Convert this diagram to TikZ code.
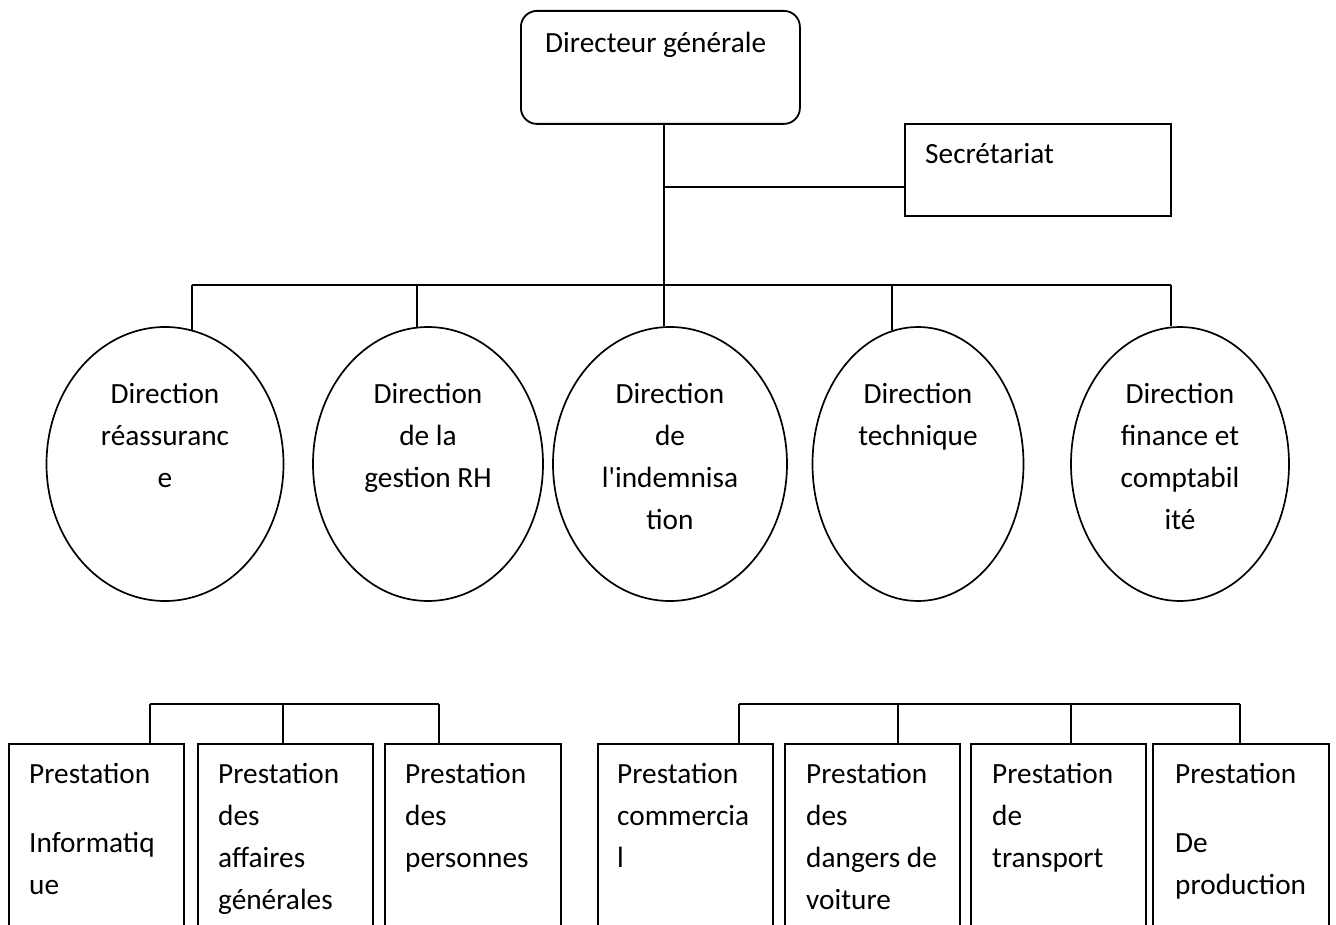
\documentclass[tikz,border=0pt]{standalone}
\usepackage{fontspec}
\setmainfont{Carlito}
\usetikzlibrary{shapes.geometric}
\newcommand{\straightq}{{\addfontfeatures{Ligatures=TeXOff}'}}
\begin{document}
\begin{tikzpicture}[x=1pt,y=-1pt,
  ln/.style={line width=1.8pt},
  ov/.style={ellipse,draw,line width=1.7pt,inner sep=0pt},
  bx/.style={rectangle,draw,line width=1.8pt,inner sep=0pt,anchor=north west},
  pbox/.style={bx,minimum width=175pt,minimum height=260pt},
  txt/.style={font=\fontsize{29.3}{42}\selectfont,inner sep=0pt},
  otxt/.style={txt,align=center,anchor=north},
  btxt/.style={txt,align=left,anchor=north west},
]
\useasboundingbox (0,0) rectangle (1336,925);
\clip (0,0) rectangle (1336,925);

% top
\node[bx,rounded corners=16pt,minimum width=279pt,minimum height=113pt] (dg) at (520,10) {};
\node[txt,anchor=base west] (dgt) at (545,53) {Directeur générale};
\node[bx,minimum width=266pt,minimum height=92pt] (sec) at (904,123) {};
\node[txt,anchor=base west] (sect) at (925,164) {Secrétariat};

% ellipses
\node[ov,minimum width=237pt,minimum height=274pt] (e1) at (165,464) {};
\node[ov,minimum width=230pt,minimum height=274pt] (e2) at (428,464) {};
\node[ov,minimum width=234pt,minimum height=274pt] (e3) at (670,464) {};
\node[ov,minimum width=211pt,minimum height=274pt] (e4) at (918,464) {};
\node[ov,minimum width=218pt,minimum height=274pt] (e5) at (1180,464) {};

\node[otxt] (t1) at (165,379) {\rule{0pt}{24pt}Direction\\réassuranc\\e};
\node[otxt] (t2) at (428,379) {\rule{0pt}{24pt}Direction\\de la\\gestion RH};
\node[otxt] (t3) at (670,379) {\rule{0pt}{24pt}Direction\\de\\l\straightq indemnisa\\tion};
\node[otxt] (t4) at (918,379) {\rule{0pt}{24pt}Direction\\technique};
\node[otxt] (t5) at (1180,379) {\rule{0pt}{24pt}Direction\\finance et\\comptabil\\ité};

% bottom boxes
\node[pbox] (b1) at (8,743) {};
\node[pbox] (b2) at (197,743) {};
\node[pbox,minimum width=176pt] (b3) at (384,743) {};
\node[pbox] (b4) at (597,743) {};
\node[pbox] (b5) at (784,743) {};
\node[pbox] (b6) at (970,743) {};
\node[pbox,minimum width=176pt] (b7) at (1152,743) {};

\node[btxt] (p1) at (29,759) {\rule{0pt}{24pt}Prestation\\[27pt]Informatiq\\ue};
\node[btxt] (p2) at (218,759) {\rule{0pt}{24pt}Prestation\\des\\affaires\\générales};
\node[btxt] (p3) at (405,759) {\rule{0pt}{24pt}Prestation\\des\\personnes};
\node[btxt] (p4) at (617,759) {\rule{0pt}{24pt}Prestation\\commercia\\l};
\node[btxt] (p5) at (806,759) {\rule{0pt}{24pt}Prestation\\des\\dangers de\\voiture};
\node[btxt] (p6) at (992,759) {\rule{0pt}{24pt}Prestation\\de\\transport};
\node[btxt] (p7) at (1175,759) {\rule{0pt}{24pt}Prestation\\[27pt]De\\production};

% connectors top
\coordinate (j0) at (664,187);
\draw[ln] (dg.south -| j0) -- (e3.north -| j0);
\draw[ln] (j0) -- (j0 -| sec.west);
\coordinate (d1) at (192,285);
\coordinate (d2) at (417,285);
\coordinate (d4) at (892,285);
\coordinate (d5) at (1171,285);
\draw[ln] (d1) -- (d5);
\draw[ln] (d1) -- (d1 |- e1.78.5);
\draw[ln] (d2) -- (d2 |- e2.94.6);
\draw[ln] (d4) -- (d4 |- e4.101.1);
\draw[ln] (d5) -- (d5 |- e5.93.8);

% connectors bottom
\coordinate (l1) at (150,704);
\coordinate (l2) at (283,704);
\coordinate (l3) at (439,704);
\draw[ln] (l1) -- (l3);
\draw[ln] (l1) -- (l1 |- b1.north);
\draw[ln] (l2) -- (l2 |- b2.north);
\draw[ln] (l3) -- (l3 |- b3.north);
\coordinate (r1) at (739,704);
\coordinate (r2) at (898,704);
\coordinate (r3) at (1071,704);
\coordinate (r4) at (1240,704);
\draw[ln] (r1) -- (r4);
\draw[ln] (r1) -- (r1 |- b4.north);
\draw[ln] (r2) -- (r2 |- b5.north);
\draw[ln] (r3) -- (r3 |- b6.north);
\draw[ln] (r4) -- (r4 |- b7.north);
\end{tikzpicture}
\end{document}
